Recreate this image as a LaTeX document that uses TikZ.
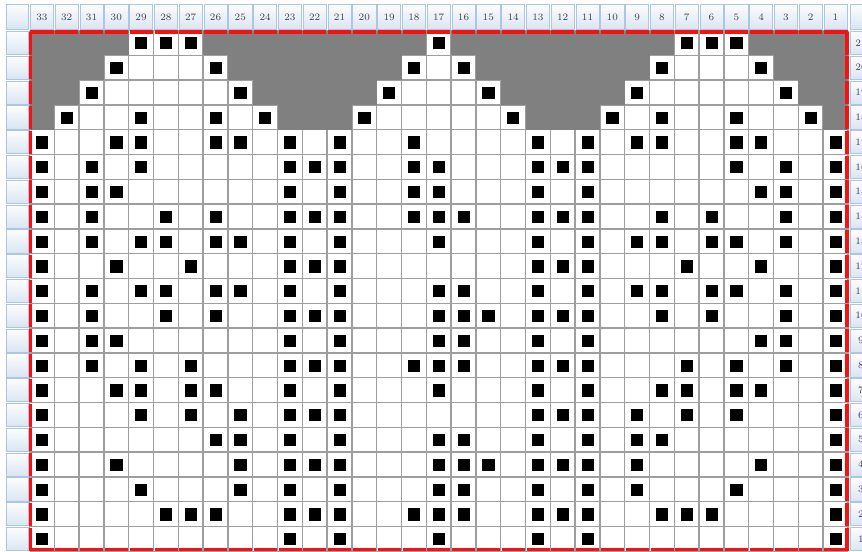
\documentclass[tikz,border=0pt]{standalone}
\usetikzlibrary{positioning}
\definecolor{chartgray}{RGB}{128,128,128}
\definecolor{gridline}{RGB}{158,158,158}
\definecolor{hdrtop}{RGB}{252,253,255}
\definecolor{hdrbot}{RGB}{218,229,242}
\definecolor{hdrline}{RGB}{172,198,224}
\definecolor{chartred}{RGB}{245,18,18}

\begin{document}
\begin{tikzpicture}[x=0.025cm, y=-0.025cm,
  hdrcell/.style={draw=hdrline, line width=0.5pt, top color=hdrtop, bottom color=hdrbot},
  hdrlabel/.style={font=\fontsize{7}{8}\selectfont, text=black!75, inner sep=0pt},
  gridrule/.style={draw=gridline, line width=1pt},
  stitch/.style={fill=black},
  redrule/.style={draw=chartred, line width=2.2pt, line cap=butt}
]
  \useasboundingbox (0,0) rectangle (862,552);
  \clip (0,0) rectangle (862,552);

  % headers
  \path[hdrcell] (6,4) rectangle (28.5,29);
  \path[hdrcell] (850,4) rectangle (885,29);
  \foreach \c in {1,...,33} {
    \pgfmathsetmacro\xl{29.5+(33-\c)*24.8}
    \path[hdrcell] (\xl+0.8,4) rectangle (\xl+24,29);
    \node[hdrlabel] (col\c) at (\xl+12.4,17) {\c};
  }
  \foreach \r in {1,...,21} {
    \pgfmathsetmacro\yt{30.5+(21-\r)*24.8}
    \path[hdrcell] (6,\yt+0.8) rectangle (28.5,\yt+24);
    \path[hdrcell] (850,\yt+0.8) rectangle (885,\yt+24);
    \node[hdrlabel] (row\r) at (861,\yt+12.4) {\r};
  }

  % chart
  \fill[white] (29.5,30.5) rectangle (848.1,551.3);
  \foreach \i in {0,...,33}
    \draw[gridrule] (29.5+\i*24.8,30.5) -- (29.5+\i*24.8,551.3);
  \foreach \i in {0,...,21}
    \draw[gridrule] (29.5,30.5+\i*24.8) -- (848.1,30.5+\i*24.8);

  \foreach \r/\a/\b in {21/33/30, 21/26/18, 21/16/8, 21/4/1,
                        20/33/31, 20/25/19, 20/15/9, 20/3/1,
                        19/33/32, 19/24/20, 19/14/10, 19/2/1,
                        18/33/33, 18/23/21, 18/13/11, 18/1/1} {
    \pgfmathsetmacro\xa{29.5+(33-\a)*24.8}
    \pgfmathsetmacro\xb{29.5+(34-\b)*24.8}
    \pgfmathsetmacro\yt{30.5+(21-\r)*24.8}
    \fill[chartgray] (\xa,\yt) rectangle (\xb,\yt+24.8);
  }

  \foreach \r/\cols in {
      21/{29,28,27,17,7,6,5},
      20/{30,26,18,16,8,4},
      19/{31,25,19,15,9,3},
      18/{32,29,26,24,20,14,10,8,5,2},
      17/{33,30,29,26,25,23,21,18,13,11,9,8,5,4,1},
      16/{33,31,29,23,22,21,18,17,13,12,11,5,3,1},
      15/{33,31,30,23,21,18,17,13,11,4,3,1},
      14/{33,31,28,26,23,22,21,18,17,16,13,12,11,8,6,3,1},
      13/{33,31,29,28,26,25,23,21,17,13,11,9,8,6,5,3,1},
      12/{33,30,27,23,22,21,13,12,11,7,4,1},
      11/{33,31,29,28,26,25,23,21,17,16,13,11,9,8,6,5,3,1},
      10/{33,31,28,26,23,22,21,17,16,15,13,12,11,8,6,3,1},
      9/{33,31,30,23,21,17,16,13,11,4,3,1},
      8/{33,31,29,27,23,22,21,18,17,16,13,12,11,7,5,3,1},
      7/{33,30,29,27,26,23,21,17,13,11,8,7,5,4,1},
      6/{33,29,27,25,23,22,21,13,12,11,9,7,5,1},
      5/{33,26,25,23,21,17,16,13,11,9,8,1},
      4/{33,30,25,23,22,21,17,16,15,13,12,11,9,4,1},
      3/{33,29,25,23,21,17,16,13,11,9,5,1},
      2/{33,28,27,26,23,22,21,18,17,16,13,12,11,8,7,6,1},
      1/{33,23,21,17,13,11,1}} {
    \pgfmathsetmacro\yt{30.5+(21-\r)*24.8}
    \foreach \c in \cols {
      \pgfmathsetmacro\xl{29.5+(33-\c)*24.8}
      \fill[stitch] (\xl+6.4,\yt+6.6) rectangle +(12.2,12.2);
    }
  }

  % border
  \foreach \c in {1,...,33} {
    \pgfmathsetmacro\xl{29.5+(33-\c)*24.8}
    \draw[redrule] (\xl+1,32) -- (\xl+24,32);
    \draw[redrule] (\xl+1,549.3) -- (\xl+24,549.3);
  }
  \foreach \r in {1,...,21} {
    \pgfmathsetmacro\yt{30.5+(21-\r)*24.8}
    \draw[redrule] (30.8,\yt+1) -- (30.8,\yt+24);
    \draw[redrule] (847,\yt+1) -- (847,\yt+24);
  }
  \draw[redrule] (29.7,32) -- (31.9,32);
  \draw[redrule] (845.9,32) -- (848.1,32);
\end{tikzpicture}
\end{document}
